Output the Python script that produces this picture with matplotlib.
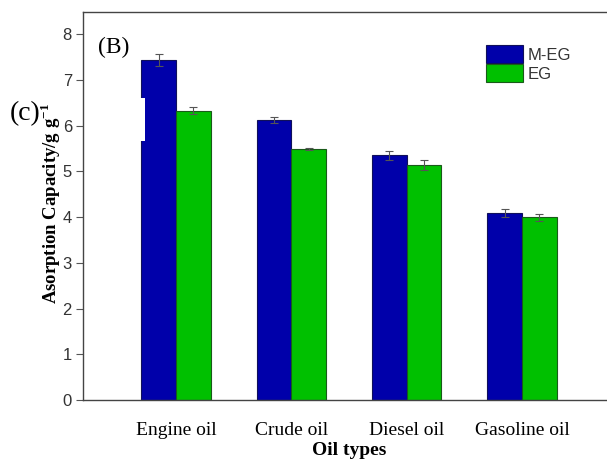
import matplotlib
matplotlib.use("Agg")
import matplotlib.pyplot as plt
import numpy as np
from matplotlib.patches import Rectangle

categories = ["Engine oil", "Crude oil", "Diesel oil", "Gasoline oil"]
series_names = ["M-EG", "EG"]
meg_values = [7.44, 6.13, 5.35, 4.09]
meg_errors = [0.13, 0.06, 0.10, 0.08]
eg_values = [6.33, 5.49, 5.15, 4.00]
eg_errors = [0.08, 0.02, 0.11, 0.08]
yticks = [0, 1, 2, 3, 4, 5, 6, 7, 8]

plt.rcParams["mathtext.fontset"] = "custom"
plt.rcParams["mathtext.rm"] = "Liberation Serif"
plt.rcParams["mathtext.bf"] = "Liberation Serif:bold"

fig = plt.figure(figsize=(6.07, 4.72), dpi=100)
ax = fig.add_axes([83/607, 1 - 400/472, (615 - 83)/607, (400 - 11.5)/472])

x = np.arange(len(categories))
w = 0.30
err_kw = dict(ecolor="#555555", elinewidth=0.8, capsize=3, capthick=0.8)
ax.bar(x - w/2, meg_values, w, yerr=meg_errors, color="#0000AA",
       edgecolor="#10105a", linewidth=0.8, label=series_names[0], error_kw=err_kw, zorder=2)
ax.bar(x + w/2, eg_values, w, yerr=eg_errors, color="#00C000",
       edgecolor="#1a5a1a", linewidth=0.8, label=series_names[1], error_kw=err_kw, zorder=2)

# white notch artifact on the first bar
ax.add_patch(Rectangle((-0.31, 5.67), 0.04, 0.94, facecolor="white",
                       edgecolor="none", zorder=3))

ax.set_xlim(-0.807, 3.807)
ax.set_ylim(0, 8.5)
ax.set_yticks(yticks)
ax.set_xticks(x)
ax.set_xticklabels(categories, family="Liberation Serif", fontsize=14)
for lab in ax.get_yticklabels():
    lab.set_family("Liberation Sans")
    lab.set_fontsize(12)
    lab.set_color("#333333")
ax.tick_params(axis="x", length=0, pad=16)
ax.tick_params(axis="y", direction="out", length=5, width=0.8, color="#555555", pad=3)

for s in ["left", "bottom", "top"]:
    ax.spines[s].set_color("#444444")
    ax.spines[s].set_linewidth(1.0)
ax.spines["right"].set_visible(False)

ax.set_xlabel("Oil types", family="Liberation Serif", fontweight="bold",
              fontsize=14, labelpad=2)
fig.text(51/607, 1 - 204/472, r"Asorption Capacity/g g$^{\mathbf{-1}}$",
         rotation=90, ha="center", va="center", family="Liberation Serif",
         fontweight="bold", fontsize=13.5)

fig.text(98/607, 1 - 47/472, "(B)", family="Liberation Serif", fontsize=17,
         ha="left", va="center")
fig.text(10/607, 1 - 114/472, "(c)", family="Liberation Serif", fontsize=20,
         ha="left", va="center")

leg = ax.legend(loc="upper left", bbox_to_anchor=((478 - 83)/532, (400 - 37)/388.5),
                frameon=False, handlelength=2.2, handleheight=1.25,
                labelspacing=0.08, handletextpad=0.3, borderpad=0.0,
                prop={"family": "Liberation Sans", "size": 12})
for t in leg.get_texts():
    t.set_color("#333333")

fig.savefig("out.png", dpi=100)
